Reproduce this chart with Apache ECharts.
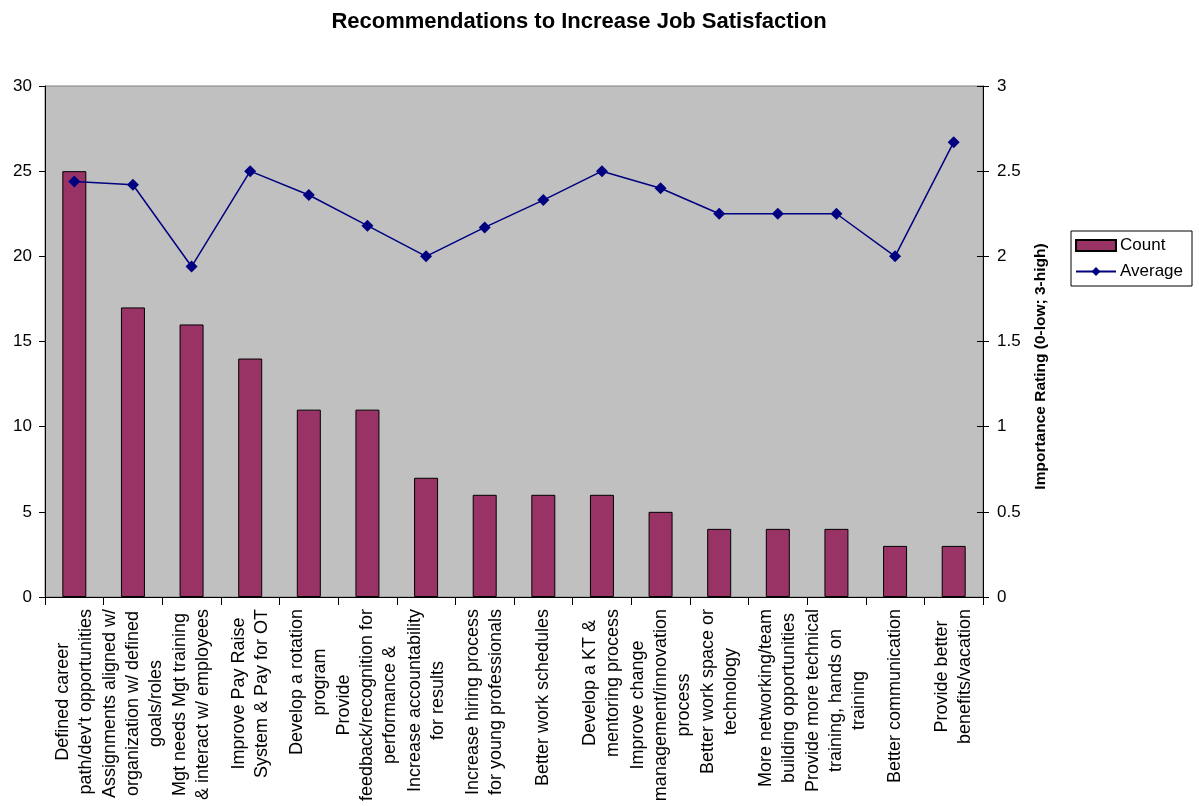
<!DOCTYPE html>
<html>
<head>
<meta charset="utf-8">
<script src="https://cdn.jsdelivr.net/npm/echarts@6/dist/echarts.min.js"></script>
<style>
  html, body { margin: 0; padding: 0; background: #fff; }
  #chart { width: 1199px; height: 806px; }
</style>
</head>
<body>
<div id="chart"></div>
<script>
// Category labels, already wrapped into lines
const categories = [
  "Defined career\npath/dev't opportunities",
  "Assignments aligned w/\norganization w/ defined\ngoals/roles",
  "Mgt needs Mgt training\n& interact w/ employees",
  "Improve Pay Raise\nSystem & Pay for OT",
  "Develop a rotation\nprogram",
  "Provide\nfeedback/recognition for\nperformance &",
  "Increase accountability\nfor results",
  "Increase hiring process\nfor young professionals",
  "Better work schedules",
  "Develop a KT &\nmentoring process",
  "Improve change\nmanagement/innovation\nprocess",
  "Better work space or\ntechnology",
  "More networking/team\nbuilding opportunities",
  "Provide more technical\ntraining, hands on\ntraining",
  "Better communication",
  "Provide better\nbenefits/vacation"
];

// Number of responses per recommendation
const countValues = [25, 17, 16, 14, 11, 11, 7, 6, 6, 6, 5, 4, 4, 4, 3, 3];

// Average importance rating (0 = low, 3 = high)
const averageValues = [2.44, 2.42, 1.94, 2.5, 2.36, 2.18, 2.0, 2.17, 2.33, 2.5, 2.4, 2.25, 2.25, 2.25, 2.0, 2.67];

const FONT = "'Liberation Sans', Arial, sans-serif";

const chart = echarts.init(document.getElementById('chart'), null, { renderer: 'canvas' });

chart.setOption({
  animation: false,
  backgroundColor: '#ffffff',
  textStyle: { fontFamily: FONT, color: '#000' },
  title: {
    text: 'Recommendations to Increase Job Satisfaction',
    left: 574,
    top: 6,
    textAlign: 'center',
    textStyle: { fontFamily: FONT, fontSize: 22, fontWeight: 'bold', color: '#000' }
  },
  legend: {
    orient: 'vertical',
    left: 1071,
    top: 231,
    padding: [6, 9, 6, 4],
    itemGap: 9,
    itemWidth: 40,
    itemHeight: 11,
    backgroundColor: '#ffffff',
    borderColor: '#000000',
    borderWidth: 1,
    borderRadius: 0,
    textStyle: { fontFamily: FONT, fontSize: 17, color: '#000', padding: [0, 0, 0, -1] },
    data: [
      { name: 'Count', icon: 'rect' },
      { name: 'Average' }
    ]
  },
  grid: {
    left: 45,
    right: 216,
    top: 86,
    bottom: 209,
    show: true,
    backgroundColor: '#C0C0C0',
    borderColor: '#808080',
    borderWidth: 1
  },
  xAxis: {
    type: 'category',
    data: categories,
    boundaryGap: true,
    axisLine: { lineStyle: { color: '#000', width: 1 } },
    axisTick: { show: true, length: 8, lineStyle: { color: '#000' } },
    axisLabel: {
      interval: 0,
      rotate: 90,
      margin: 12,
      fontFamily: FONT,
      fontSize: 18,
      lineHeight: 23,
      color: '#000',
      formatter: function (v) {
        return v.split('\n').map(function (line) { return '{c|' + line + '}'; }).join('\n');
      },
      rich: {
        c: { align: 'center', fontFamily: FONT, fontSize: 18, lineHeight: 23, color: '#000' }
      }
    }
  },
  yAxis: [
    {
      type: 'value',
      min: 0,
      max: 30,
      interval: 5,
      position: 'left',
      splitLine: { show: false },
      axisLine: { show: true, lineStyle: { color: '#000' } },
      axisTick: { show: true, length: 6, lineStyle: { color: '#000' } },
      axisLabel: { margin: 13, fontFamily: FONT, fontSize: 17, color: '#000' }
    },
    {
      type: 'value',
      min: 0,
      max: 3,
      interval: 0.5,
      position: 'right',
      splitLine: { show: false },
      axisLine: { show: true, lineStyle: { color: '#000' } },
      axisTick: { show: true, length: 6, lineStyle: { color: '#000' } },
      axisLabel: { margin: 14, fontFamily: FONT, fontSize: 17, color: '#000' },
      name: 'Importance Rating (0-low; 3-high)',
      nameLocation: 'middle',
      nameRotate: 90,
      nameGap: 50,
      nameTextStyle: {
        fontFamily: FONT, fontSize: 15.5, fontWeight: 'bold', color: '#000',
        padding: [0, 50, 0, 0]
      }
    },
    {
      // inner half of the crossing tick marks on the right axis
      type: 'value',
      min: 0,
      max: 3,
      interval: 0.5,
      position: 'right',
      splitLine: { show: false },
      axisLine: { show: false },
      axisTick: { show: true, inside: true, length: 6, lineStyle: { color: '#000' } },
      axisLabel: { show: false }
    }
  ],
  series: [
    {
      name: 'Count',
      type: 'bar',
      yAxisIndex: 0,
      data: countValues,
      barWidth: 24,
      itemStyle: { color: '#993366', borderColor: '#000', borderWidth: 1 }
    },
    {
      name: 'Average',
      type: 'line',
      yAxisIndex: 1,
      data: averageValues,
      symbol: 'diamond',
      symbolSize: 12,
      lineStyle: { color: '#000080', width: 1.5 },
      itemStyle: { color: '#000080' }
    }
  ]
});
</script>
</body>
</html>
